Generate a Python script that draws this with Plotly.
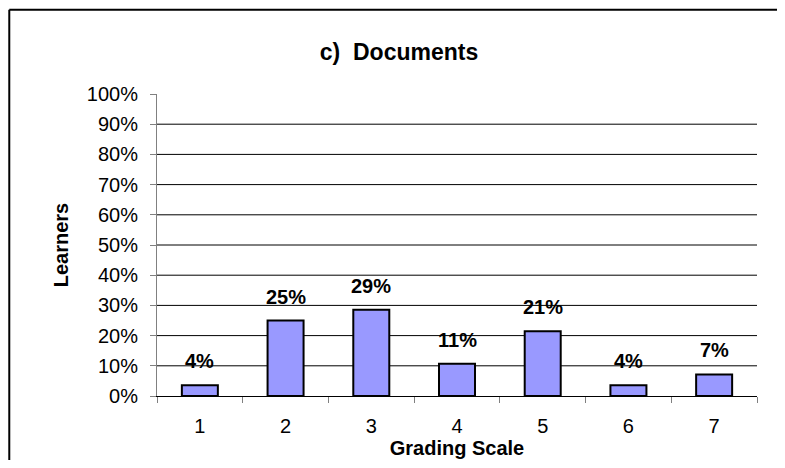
import plotly.graph_objects as go

categories = ["1", "2", "3", "4", "5", "6", "7"]
values = [3.57, 25.0, 28.57, 10.71, 21.43, 3.57, 7.14]
labels = [f"{round(v):.0f}%" for v in values]
tick_vals = list(range(0, 101, 10))
tick_text = [f"{t}%" for t in tick_vals]

FONT = "Arial, Liberation Sans, sans-serif"
W, H = 769, 452

fig = go.Figure()
fig.add_trace(go.Bar(
    x=categories, y=values,
    marker=dict(color="#9999FF", line=dict(color="black", width=2)),
    hoverinfo="skip",
))

# data labels (x given as category index)
for i, (v, t) in enumerate(zip(values, labels)):
    fig.add_annotation(x=i, y=v, xref="x", yref="y", text=f"<b>{t}</b>",
                       showarrow=False, yshift=24, yanchor="middle",
                       font=dict(family=FONT, size=20, color="black"))

# gridlines (none at 0% or 100%)
for t in tick_vals[1:-1]:
    fig.add_shape(type="line", xref="paper", yref="y", x0=0, x1=1, y0=t, y1=t,
                  line=dict(color="black", width=1), layer="below")

# outer border (top and left edges; the rest runs off the page)
fig.add_shape(type="line", xref="paper", yref="paper",
              x0=-0.2462, x1=1.5, y0=1.2793, y1=1.2793,
              line=dict(color="black", width=2))
fig.add_shape(type="line", xref="paper", yref="paper",
              x0=-0.2462, x1=-0.2462, y0=1.2793, y1=-0.5,
              line=dict(color="black", width=2))

fig.update_layout(
    width=W, height=H,
    margin=dict(l=148.7, r=W - 748.7, t=85.5, b=H - 388, autoexpand=False),
    paper_bgcolor="white", plot_bgcolor="white",
    bargap=0.58,
    showlegend=False,
    font=dict(family=FONT, size=20, color="black"),
    title=dict(text="<b>c)  Documents</b>", x=391/W, xanchor="center",
               y=1-44/H, yanchor="middle", yref="container",
               font=dict(family=FONT, size=23, color="black")),
    xaxis=dict(
        type="category", automargin=False,
        showgrid=False, showline=True, linecolor="black", linewidth=1,
        ticks="outside", tickson="boundaries", ticklen=6, tickcolor="#808080",
        ticklabelstandoff=12,
        tickfont=dict(family=FONT, size=20, color="black"),
        title=dict(text="<b>Grading Scale</b>", standoff=0,
                   font=dict(family=FONT, size=20, color="black")),
    ),
    yaxis=dict(
        range=[0, 100], tickvals=tick_vals, ticktext=tick_text, automargin=False,
        showgrid=False, zeroline=False,
        showline=True, linecolor="#808080", linewidth=1,
        ticks="outside", ticklen=6, tickcolor="#808080",
        ticklabelstandoff=8,
        tickfont=dict(family=FONT, size=20, color="black"),
        title=dict(text="<b>Learners</b>", standoff=12,
                   font=dict(family=FONT, size=20, color="black")),
    ),
)

fig.write_html("out.html")
